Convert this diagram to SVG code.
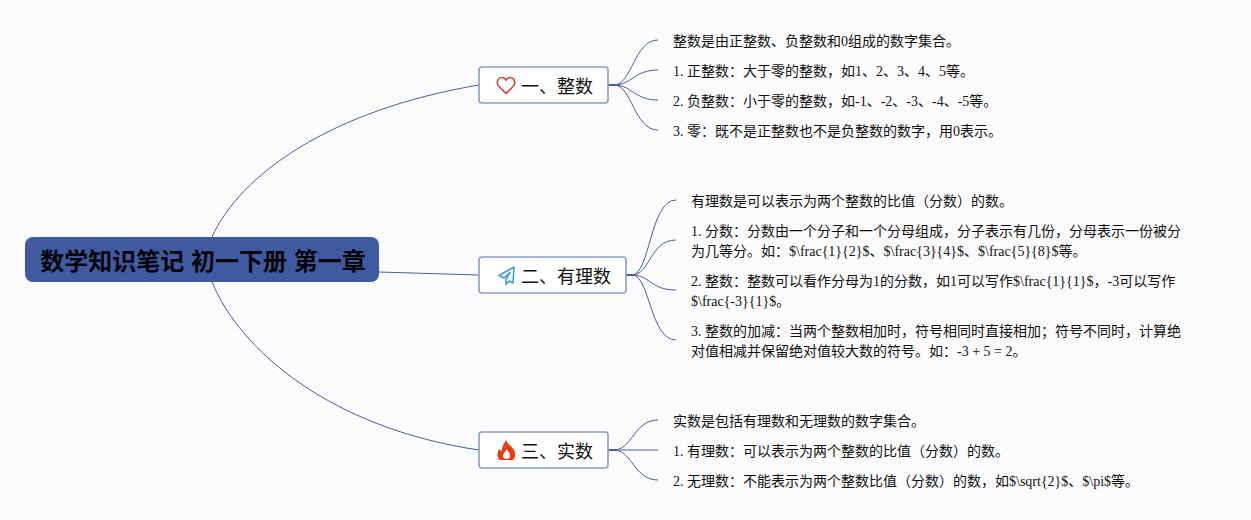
<svg xmlns="http://www.w3.org/2000/svg" width="1251" height="520" viewBox="0 0 1251 520">
<style>
.t{font-family:"Liberation Serif","Noto Sans CJK SC",serif;font-size:14px;fill:#111}
.b{font-family:"Liberation Serif","Noto Sans CJK SC",serif;font-size:18px;fill:#111}
.r{font-family:"Liberation Sans","Noto Sans CJK SC",sans-serif;font-size:24px;font-weight:700;fill:#05050a}
.box{fill:#fff;stroke:#8c9cc6;stroke-width:1.6}
.c{fill:none;stroke:#4a5c9e;stroke-width:1}
</style>
<rect width="1251" height="520" fill="#fbfbfc"/>
<g id="connectors">
<path class="c" d="M212 237C240 175 330 110 479 85"/>
<path class="c" d="M379 272L479 275"/>
<path class="c" d="M212 282C240 350 330 428 479 450"/>
<path class="c" d="M608 85H614C632 85 634 40 658 40"/>
<path class="c" d="M608 85H614C632 85 634 70 658 70"/>
<path class="c" d="M608 85H614C632 85 634 100 658 100"/>
<path class="c" d="M608 85H614C632 85 634 130 658 130"/>
<path class="c" d="M626 275H632C650 275 650 200 676 200"/>
<path class="c" d="M626 275H632C650 275 650 240 676 240"/>
<path class="c" d="M626 275H632C650 275 650 290 676 290"/>
<path class="c" d="M626 275H632C650 275 650 340 676 340"/>
<path class="c" d="M608 450H614C632 450 634 420 658 420"/>
<path class="c" d="M608 450H658"/>
<path class="c" d="M608 450H614C632 450 634 480 658 480"/>
<path d="M608 85h8M626 275h6M608 450h8" stroke="#4a5c9e" stroke-width="2" fill="none"/>
</g>
<g id="root">
<rect x="25" y="237" width="354" height="45" rx="8" fill="#3f5aa0"/>
<text class="r" x="203" y="270" text-anchor="middle">数学知识笔记 初一下册 第一章</text>
</g>
<g id="n1">
<rect class="box" x="479" y="67" width="129" height="36" rx="3"/>
<path d="M506 93.500L499 86.500C495.500 82.500 498 77.500 502 77.500C504 77.500 505.200 78.500 506 80C506.800 78.500 508 77.500 510 77.500C514 77.500 516.500 82.500 513 86.500Z" fill="none" stroke="#c8503c" stroke-width="1.700"/>
<text class="b" x="521" y="93">一、整数</text>
</g>
<g id="n2">
<rect class="box" x="479" y="257" width="147" height="36" rx="3"/>
<path d="M514 267L499 275.500L504 278L510 272.500L506 279.500L506 284.500L509 281L513 283Z" fill="none" stroke="#3fa0d8" stroke-width="1.600" stroke-linejoin="round"/>
<text class="b" x="521" y="283">二、有理数</text>
</g>
<g id="n3">
<rect class="box" x="479" y="432" width="129" height="36" rx="3"/>
<path d="M506 440C507 444 512 446 514 450C516 454 515.500 457 513 460L499.500 460C497 457 497 453 499 449L501.500 451.500C502 447 504 443 506 440ZM506.500 449C506 452 503 453 503 456C503 458 504.500 459 506.500 459C508.500 459 510 458 510 456C510 453 508 451 506.500 449Z" fill="#f03a12" fill-rule="evenodd"/>
<text class="b" x="521" y="458">三、实数</text>
</g>
<g id="l1">
<text class="t" x="673" y="46">整数是由正整数、负整数和0组成的数字集合。</text>
<text class="t" x="673" y="76">1. 正整数：大于零的整数，如1、2、3、4、5等。</text>
<text class="t" x="673" y="106">2. 负整数：小于零的整数，如-1、-2、-3、-4、-5等。</text>
<text class="t" x="673" y="136">3. 零：既不是正整数也不是负整数的数字，用0表示。</text>
</g>
<g id="l2">
<text class="t" x="691" y="206">有理数是可以表示为两个整数的比值（分数）的数。</text>
<text class="t" x="691" y="236">1. 分数：分数由一个分子和一个分母组成，分子表示有几份，分母表示一份被分</text>
<text class="t" x="691" y="256">为几等分。如：$\frac{1}{2}$、$\frac{3}{4}$、$\frac{5}{8}$等。</text>
<text class="t" x="691" y="286">2. 整数：整数可以看作分母为1的分数，如1可以写作$\frac{1}{1}$，-3可以写作</text>
<text class="t" x="691" y="306">$\frac{-3}{1}$。</text>
<text class="t" x="691" y="336">3. 整数的加减：当两个整数相加时，符号相同时直接相加；符号不同时，计算绝</text>
<text class="t" x="691" y="356">对值相减并保留绝对值较大数的符号。如：-3 + 5 = 2。</text>
</g>
<g id="l3">
<text class="t" x="673" y="426">实数是包括有理数和无理数的数字集合。</text>
<text class="t" x="673" y="456">1. 有理数：可以表示为两个整数的比值（分数）的数。</text>
<text class="t" x="673" y="486">2. 无理数：不能表示为两个整数比值（分数）的数，如$\sqrt{2}$、$\pi$等。</text>
</g>
</svg>
